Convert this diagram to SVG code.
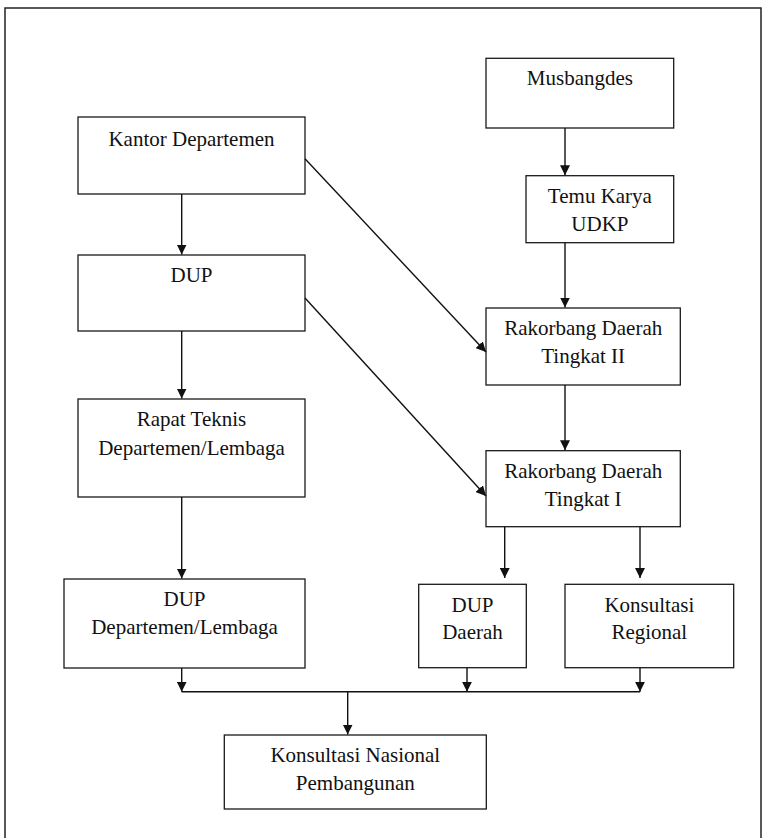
<svg xmlns="http://www.w3.org/2000/svg" width="762" height="838" viewBox="0 0 762 838">
<style>
.box{fill:#fff;stroke:#1a1a1a;stroke-width:1.3}
.t{font-family:'Liberation Serif',Tinos,'Times New Roman',Times,'DejaVu Serif','Noto Serif',serif;font-size:21px;fill:#111;text-anchor:middle}
.c{fill:none;stroke:#111;stroke-width:1.4}
</style>
<defs>
<marker id="ah" viewBox="0 0 10 10" refX="10" refY="5" markerWidth="10" markerHeight="10" markerUnits="userSpaceOnUse" orient="auto">
<path d="M0,0 L10,5 L0,10 Z" fill="#111"/>
</marker>
</defs>
<rect width="762" height="838" fill="#fff"/>
<path d="M5,840 V8 H761 V840" fill="none" stroke="#222" stroke-width="1.5"/>

<g id="kantor"><rect class="box" x="78" y="117" width="227" height="77"/><text class="t" x="191.5" y="146">Kantor Departemen</text></g>
<g id="dup"><rect class="box" x="78" y="255" width="227" height="76"/><text class="t" x="191.5" y="282">DUP</text></g>
<g id="rapat"><rect class="box" x="78" y="399" width="227" height="98"/><text class="t" x="191.5" y="426">Rapat Teknis</text><text class="t" x="191.5" y="455">Departemen/Lembaga</text></g>
<g id="dupdl"><rect class="box" x="64" y="579" width="241" height="89"/><text class="t" x="184.5" y="606">DUP</text><text class="t" x="184.5" y="634">Departemen/Lembaga</text></g>
<g id="knas"><rect class="box" x="224.3" y="735" width="262" height="74"/><text class="t" x="355.3" y="762">Konsultasi Nasional</text><text class="t" x="355.3" y="790">Pembangunan</text></g>
<g id="musbangdes"><rect class="box" x="486" y="58.3" width="187.7" height="69.7"/><text class="t" x="579.9" y="85">Musbangdes</text></g>
<g id="temu"><rect class="box" x="526" y="175.7" width="147.7" height="67"/><text class="t" x="599.9" y="203">Temu Karya</text><text class="t" x="599.9" y="231">UDKP</text></g>
<g id="rak2"><rect class="box" x="486" y="308" width="194.3" height="77"/><text class="t" x="583.2" y="335">Rakorbang Daerah</text><text class="t" x="583.2" y="363">Tingkat II</text></g>
<g id="rak1"><rect class="box" x="486" y="450.7" width="194.3" height="76"/><text class="t" x="583.2" y="478">Rakorbang Daerah</text><text class="t" x="583.2" y="506">Tingkat I</text></g>
<g id="dupdaerah"><rect class="box" x="418.7" y="584.3" width="107.6" height="83.4"/><text class="t" x="472.5" y="611.7">DUP</text><text class="t" x="472.5" y="639.3">Daerah</text></g>
<g id="kreg"><rect class="box" x="565" y="584.3" width="168.7" height="83.4"/><text class="t" x="649.3" y="611.7">Konsultasi</text><text class="t" x="649.3" y="639.3">Regional</text></g>

<g id="connectors">
<line class="c" x1="181.7" y1="194" x2="181.7" y2="254.5" marker-end="url(#ah)"/>
<line class="c" x1="181.7" y1="331" x2="181.7" y2="398.5" marker-end="url(#ah)"/>
<line class="c" x1="181.7" y1="497" x2="181.7" y2="578.5" marker-end="url(#ah)"/>
<line class="c" x1="565" y1="128" x2="565" y2="175.2" marker-end="url(#ah)"/>
<line class="c" x1="565" y1="242.7" x2="565" y2="307.5" marker-end="url(#ah)"/>
<line class="c" x1="565" y1="385" x2="565" y2="450.2" marker-end="url(#ah)"/>
<line class="c" x1="305" y1="158.7" x2="486" y2="352" marker-end="url(#ah)"/>
<line class="c" x1="305" y1="298" x2="486" y2="496" marker-end="url(#ah)"/>
<line class="c" x1="504.7" y1="526.7" x2="504.7" y2="578" marker-end="url(#ah)"/>
<line class="c" x1="640" y1="526.7" x2="640" y2="578" marker-end="url(#ah)"/>
<line class="c" x1="181.7" y1="668" x2="181.7" y2="691.7" marker-end="url(#ah)"/>
<line class="c" x1="467" y1="667.7" x2="467" y2="691.7" marker-end="url(#ah)"/>
<line class="c" x1="640" y1="667.7" x2="640" y2="691.7" marker-end="url(#ah)"/>
<line class="c" x1="181.7" y1="691.7" x2="640" y2="691.7"/>
<line class="c" x1="347.7" y1="691.7" x2="347.7" y2="734.5" marker-end="url(#ah)"/>
</g>
</svg>
